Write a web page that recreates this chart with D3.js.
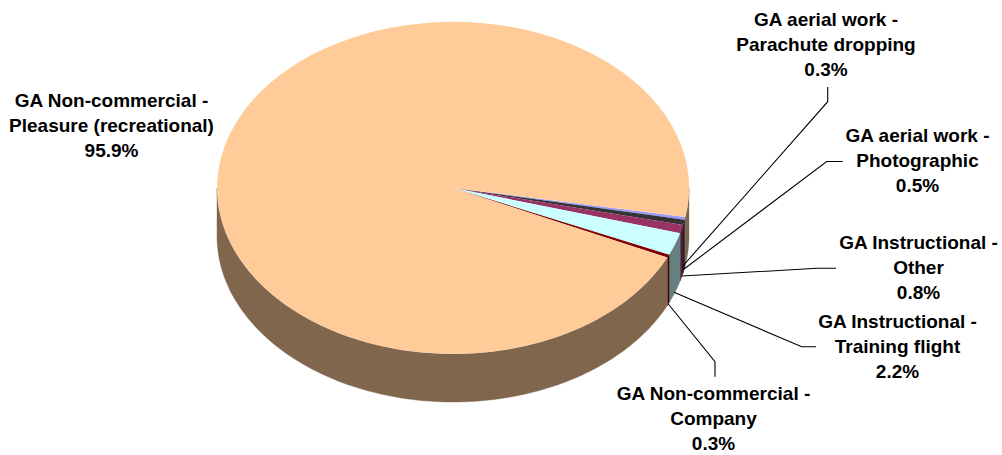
<!DOCTYPE html>
<html><head><meta charset="utf-8">
<script src="https://cdn.jsdelivr.net/npm/d3@7"></script>
<style>html,body{margin:0;background:#fff}svg{display:block}
text{font-family:"Liberation Sans",Arial,sans-serif;font-weight:bold;font-size:19px;fill:#000}</style>
</head><body><svg id="c" width="1002" height="455"></svg>
<script>
const categories=["GA aerial work - Parachute dropping","GA aerial work - Photographic","GA Instructional - Other","GA Instructional - Training flight","GA Non-commercial - Company","GA Non-commercial - Pleasure (recreational)"];
const values=[0.3,0.5,0.8,2.2,0.3,95.9];
const topColors=["#9999ff","#333333","#993366","#ccffff","#800000","#ffcc99"];
const sideColors=["#4d4d80","#1a1a1a","#4d1a33","#668080","#400000","#80664d"];
const labelLines=[["GA aerial work -","Parachute dropping","0.3%"],["GA aerial work -","Photographic","0.5%"],["GA Instructional -","Other","0.8%"],["GA Instructional -","Training flight","2.2%"],["GA Non-commercial -","Company","0.3%"],["GA Non-commercial -","Pleasure (recreational)","95.9%"]];
const labelCenters=[[826,26],[917.5,142],[918.5,249],[897.5,328],[713.5,400],[111.5,107]];
const leaders=[[[682,267],[827.7,101.7],[827.7,87]],[[682.7,270],[826.7,161.5],[842.7,161.5]],[[681.7,276],[817,268.3],[836,268.3]],[[674,292.3],[801.7,346.7],[816,346.7]],[[668.3,304],[715,361.7],[715,376.7]],null];

const cx=453,cy=188,rx=236,ry=166,depth=48;
const startDeg=100; // d3 angle of the first slice (clockwise from north)
const svg=d3.select("#c");
const sx=d3.scaleLinear().domain([-1,1]).range([cx-rx,cx+rx]);
const sy=d3.scaleLinear().domain([-1,1]).range([cy-ry,cy+ry]);
const pie=d3.pie().sort(null).startAngle(startDeg*Math.PI/180).endAngle((startDeg+360)*Math.PI/180);
const arcs=pie(values);
const px=a=>sx(Math.sin(a)), py=a=>sy(-Math.cos(a));

// side walls: front-facing part of the rim only
const line=d3.line();
const visibleRanges=a=>{
  const out=[];
  for(const k of [0,1]){ // front half = d3 angles in [PI/2,3PI/2] + 2PI k
    const lo=Math.max(a.startAngle,Math.PI/2+2*Math.PI*k), hi=Math.min(a.endAngle,3*Math.PI/2+2*Math.PI*k);
    if(hi>lo) out.push([lo,hi]);
  }
  return out;
};
arcs.forEach((a,i)=>{
  visibleRanges(a).forEach(([lo,hi])=>{
    const ts=d3.range(0,121).map(k=>lo+(hi-lo)*k/120);
    const top=ts.map(t=>[px(t),py(t)]);
    const bot=ts.slice().reverse().map(t=>[px(t),py(t)+depth]);
    svg.append("path").attr("d",line(top.concat(bot))+"Z").attr("fill",sideColors[i]).attr("stroke",sideColors[i]).attr("stroke-width",0.4);
  });
});
// top faces
const arcGen=d3.arc().innerRadius(0).outerRadius(1);
const g=svg.append("g").attr("transform",`translate(${cx},${cy}) scale(${rx},${ry})`);
g.selectAll("path").data(arcs).join("path").attr("d",arcGen).attr("fill",(d,i)=>topColors[i]);

// leaders
leaders.forEach(l=>{ if(l) svg.append("path").attr("d",line(l)).attr("fill","none").attr("stroke","#000").attr("stroke-width",1.1); });
// labels
labelLines.forEach((ls,i)=>{
  const t=svg.append("text").attr("text-anchor","middle");
  ls.forEach((s,j)=>t.append("tspan").attr("x",labelCenters[i][0]).attr("y",labelCenters[i][1]+j*25).text(s));
});
</script></body></html>
